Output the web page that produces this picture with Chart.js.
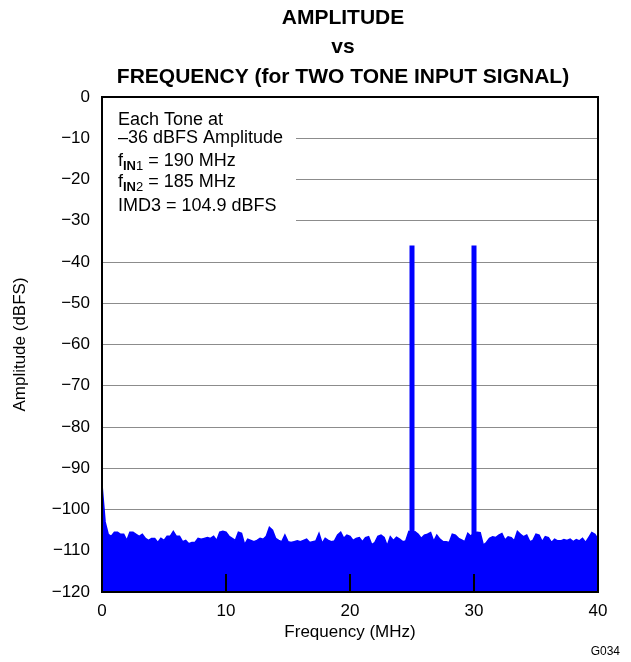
<!DOCTYPE html>
<html>
<head>
<meta charset="utf-8">
<script src="https://cdn.jsdelivr.net/npm/chart.js@4/dist/chart.umd.min.js"></script>
<style>
  html, body { margin: 0; padding: 0; background: #fff; }
  #wrap { width: 631px; height: 662px; position: relative; }
</style>
</head>
<body>
<div id="wrap"><canvas id="chart"></canvas></div>
<script>
// FFT bins, 0.25 MHz apart, starting at 0 MHz
const binStart = 0;
const binStep = 0.25;
const noiseFloor = [
  -94, -103, -106, -106.5, -105.5, -105.5, -106, -106, -107.5, -105.5,
  -105.5, -106, -106.5, -106, -107, -107.5, -107, -107, -108, -107,
  -107.5, -106.5, -106.5, -105.3, -106.5, -106.5, -107.8, -107.5, -108.3, -108,
  -108, -107, -107.2, -107, -106.8, -107, -106.5, -107.5, -105.5, -105.3,
  -105.5, -106.5, -107, -107.5, -105.5, -105.8, -108.5, -107.2, -107.5, -107.8,
  -107.5, -107, -107.2, -106.5, -104.3, -105, -107, -107.5, -107.8, -106.2,
  -107.8, -108, -107.8, -107.6, -107.8, -107.5, -107.2, -108, -107.8, -107.6,
  -105.8, -108.2, -107, -107.5, -107.8, -107.6, -106.2, -105.5, -107, -106.2,
  -106.5, -107.5, -107, -106.8, -107.8, -106.8, -106.6, -108.5, -108, -106.5,
  -106.2, -106.8, -108.8, -106.6, -107.5, -106.7, -107.2, -107.8, -107.6, -105.3,
  -105.5, -105.4, -106, -107, -106.2, -106, -105.6, -107.7, -106.2, -107.2,
  -107.8, -107.8, -108, -106, -106.2, -107, -107.4, -107.8, -105.8, -106.5,
  -105.6, -105.5, -105.6, -108.6, -108, -107, -106.6, -106.8, -106.2, -105.8,
  -107.4, -106.6, -106.8, -107.6, -105.3, -106, -106.6, -106.2, -107.8, -107.5,
  -106, -106.2, -107.8, -106.6, -106.8, -108, -107.2, -107.6, -107.6, -107.3,
  -107.5, -107.2, -107.8, -107.3, -107.6, -107, -108, -106.8, -105.6, -106,
  -107.2
];
const toneFreqs = [25, 30];
const toneLevels = [-36, -36];
const xTicks = [0, 10, 20, 30, 40];
const yTicks = [0, -10, -20, -30, -40, -50, -60, -70, -80, -90, -100, -110, -120];
const titleLines = ['AMPLITUDE', 'vs', 'FREQUENCY (for TWO TONE INPUT SIGNAL)'];
const noteLines = ['Each Tone at', '\u201336 dBFS Amplitude', 'fIN1 = 190 MHz', 'fIN2 = 185 MHz', 'IMD3 = 104.9 dBFS'];

const FONT = "Arial, 'Liberation Sans', sans-serif";
const BLUE = '#0000ff';

const noisePoints = noiseFloor.map((v, i) => ({ x: binStart + i * binStep, y: v }));
const toneSets = toneFreqs.map((f, i) => ({
  type: 'line',
  data: [{ x: f, y: yTicks[yTicks.length - 1] }, { x: f, y: toneLevels[i] }],
  borderColor: BLUE,
  borderWidth: 5,
  pointRadius: 0,
  fill: false,
}));

function drawSub(ctx, x, y, line) {
  // "fIN1 = 190 MHz" -> f + bold IN + small digit + rest
  const main = line[0], subB = line.slice(1, 3), subN = line[3], rest = line.slice(4);
  ctx.font = '18px ' + FONT;
  ctx.fillText(main, x, y);
  let w = ctx.measureText(main).width;
  ctx.font = 'bold 13px ' + FONT;
  ctx.fillText(subB, x + w, y + 5);
  w += ctx.measureText(subB).width;
  ctx.font = '13px ' + FONT;
  ctx.fillText(subN, x + w, y + 5);
  w += ctx.measureText(subN).width;
  ctx.font = '18px ' + FONT;
  ctx.fillText(rest, x + w, y);
}

const decor = {
  id: 'decor',
  beforeDatasetsDraw(chart) {
    const { ctx, chartArea: a } = chart;
    ctx.save();
    ctx.fillStyle = '#fff';
    ctx.fillRect(a.left + 1, a.top + 1, 193, 133);
    ctx.fillStyle = '#000';
    ctx.textBaseline = 'middle';
    ctx.textAlign = 'left';
    const x = a.left + 16;
    const ys = [a.top + 23, a.top + 41, a.top + 64, a.top + 85, a.top + 109];
    ctx.font = '18px ' + FONT;
    ctx.fillText(noteLines[0], x, ys[0]);
    ctx.fillText(noteLines[1], x, ys[1]);
    drawSub(ctx, x, ys[2], noteLines[2]);
    drawSub(ctx, x, ys[3], noteLines[3]);
    ctx.font = '18px ' + FONT;
    ctx.fillText(noteLines[4], x, ys[4]);
    ctx.restore();
  },
  afterDatasetsDraw(chart) {
    const { ctx, chartArea: a, scales } = chart;
    ctx.save();
    ctx.strokeStyle = '#000';
    ctx.lineWidth = 2;
    xTicks.slice(1, -1).forEach(v => {
      const px = Math.round(scales.x.getPixelForValue(v));
      ctx.beginPath();
      ctx.moveTo(px, a.bottom);
      ctx.lineTo(px, a.bottom - 18);
      ctx.stroke();
    });
    ctx.strokeRect(a.left, a.top, a.right - a.left, a.bottom - a.top);

    ctx.fillStyle = '#000';
    ctx.textAlign = 'center';
    ctx.textBaseline = 'middle';
    ctx.font = 'bold 21px ' + FONT;
    const tx = 343;
    [18, 47, 77].forEach((ty, i) => ctx.fillText(titleLines[i], tx, ty));

    ctx.font = '12px ' + FONT;
    ctx.textAlign = 'right';
    ctx.fillText('G034', 620, 652);
    ctx.restore();
  }
};

new Chart(document.getElementById('chart'), {
  type: 'line',
  data: {
    datasets: [{
      data: noisePoints,
      borderColor: BLUE,
      backgroundColor: BLUE,
      borderWidth: 1.5,
      pointRadius: 0,
      tension: 0,
      fill: { value: -120 },
    }, ...toneSets],
  },
  options: {
    responsive: true,
    maintainAspectRatio: false,
    animation: false,
    layout: { padding: { top: 97, left: 0, right: 33, bottom: 0 } },
    plugins: {
      legend: { display: false },
      tooltip: { enabled: false },
      title: { display: false },
    },
    scales: {
      x: {
        type: 'linear',
        min: xTicks[0],
        max: xTicks[xTicks.length - 1],
        afterBuildTicks: s => { s.ticks = xTicks.map(v => ({ value: v })); },
        afterFit: s => { s.height = 70; },
        grid: { display: false, drawTicks: false },
        border: { display: false },
        ticks: { color: '#000', font: { family: FONT, size: 17 }, padding: 9, maxRotation: 0 },
        title: {
          display: true, text: 'Frequency (MHz)', color: '#000',
          font: { family: FONT, size: 17 }, padding: { top: 19, bottom: 19 },
        },
      },
      y: {
        min: -120,
        max: 0,
        afterBuildTicks: s => { s.ticks = yTicks.map(v => ({ value: v })); },
        afterFit: s => { s.width = 102; },
        grid: { color: '#8c8c8c', lineWidth: 1, drawTicks: false },
        border: { display: false },
        ticks: {
          color: '#000', font: { family: FONT, size: 17 }, padding: 12,
          callback: v => String(v).replace('-', '\u2212'),
        },
        title: {
          display: true, text: 'Amplitude (dBFS)', color: '#000',
          font: { family: FONT, size: 17 }, padding: { top: 10, bottom: 10 },
        },
      },
    },
  },
  plugins: [decor],
});
</script>
</body>
</html>
